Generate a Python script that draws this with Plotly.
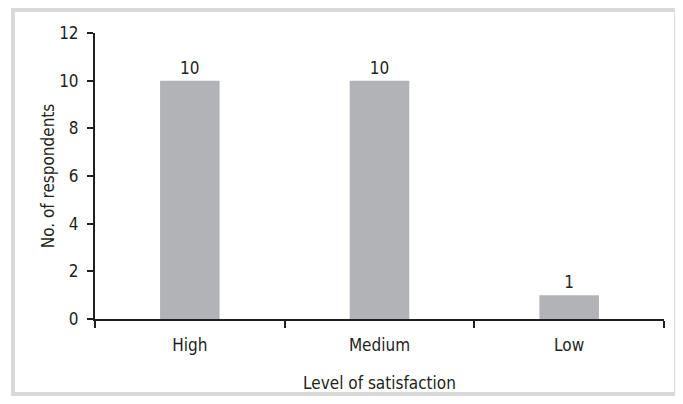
import plotly.graph_objects as go

categories = ["High", "Medium", "Low"]
respondents = [10, 10, 1]
y_ticks = [0, 2, 4, 6, 8, 10, 12]

FONT = "DejaVu Sans Condensed, Liberation Sans Narrow, sans-serif"
INK = "#231f20"
FS = 17

# page body has an 8px margin; figure is sized to fill the rest of the window
W, H = 675, 396
L, R, T, B = 87, 19, 25, 85
pw, ph = W - L - R, H - T - B

fig = go.Figure(
    go.Bar(
        x=categories,
        y=respondents,
        width=0.314,
        marker=dict(color="#b2b3b6", line=dict(width=0)),
        text=[str(v) for v in respondents],
        textposition="outside",
        textfont=dict(family=FONT, size=FS, color=INK),
        cliponaxis=False,
    )
)

fig.update_layout(
    width=W,
    height=H,
    margin=dict(l=L, r=R, t=T, b=B),
    paper_bgcolor="white",
    plot_bgcolor="white",
    showlegend=False,
    font=dict(family=FONT, size=FS, color=INK),
    xaxis=dict(
        showline=True,
        linecolor=INK,
        linewidth=2,
        ticks="outside",
        ticklen=7,
        tickwidth=2,
        tickcolor=INK,
        tickson="boundaries",
        ticklabelstandoff=10,
        showgrid=False,
        title=dict(text="Level of satisfaction", standoff=23, font=dict(size=FS)),
        tickfont=dict(size=FS),
    ),
    yaxis=dict(
        range=[0, 12],
        tickvals=y_ticks,
        showline=True,
        linecolor=INK,
        linewidth=2,
        ticks="outside",
        ticklen=6,
        tickwidth=1.5,
        tickcolor=INK,
        ticklabelstandoff=5,
        showgrid=False,
        zeroline=False,
        title=dict(text="No. of respondents", standoff=0, font=dict(size=FS)),
        tickfont=dict(size=FS),
    ),
    shapes=[
        dict(
            type="rect",
            xref="paper",
            yref="paper",
            x0=(5 - L) / pw,
            x1=(668 - L) / pw,
            y0=(H - B - 386) / ph,
            y1=(H - B - 2) / ph,
            line=dict(color="#d9d9d9", width=4),
            fillcolor="rgba(0,0,0,0)",
            layer="below",
        )
    ],
)

fig.write_html("out.html")
